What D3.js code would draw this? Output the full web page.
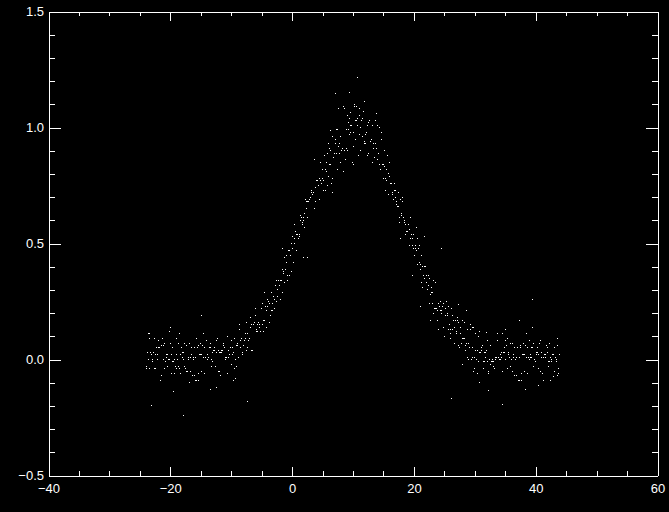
<!DOCTYPE html>
<html>
<head>
<meta charset="utf-8">
<script src="https://cdn.jsdelivr.net/npm/d3@7"></script>
<style>
  html, body { margin: 0; padding: 0; background: #000; }
  #chart svg { display: block; }
  .axis text { fill: #fff; font-family: "Liberation Sans", Arial, sans-serif; font-size: 13px; }
  .axis line, .axis path { stroke: #fff; shape-rendering: crispEdges; }
</style>
</head>
<body>
<div id="chart"></div>
<script>
// tick values
var xMajor = [-40, -20, 0, 20, 40, 60];
var xMinor = [-35, -30, -25, -15, -10, -5, 5, 10, 15, 25, 30, 35, 45, 50, 55];
var yMajor = [-0.5, 0.0, 0.5, 1.0, 1.5];
var yMinor = [-0.4, -0.3, -0.2, -0.1, 0.1, 0.2, 0.3, 0.4, 0.6, 0.7, 0.8, 0.9, 1.1, 1.2, 1.3, 1.4];

// points [x, y]
var tailLeft = [[-23.97,-.04],[-23.89,-.03],[-23.81,.03],[-23.68,.03],[-23.62,.00],[-23.53,.11],[-23.42,.09],[-23.34,-.04],[-23.21,.03],[-23.09,.02],
[-22.94,.00],[-22.86,-.01],[-22.73,.03],[-22.65,-.04],[-22.56,.09],[-22.48,-.04],[-22.37,.02],[-22.26,.05],[-22.18,.02],[-22.05,.00],
[-21.99,.08],[-21.91,.05],[-21.78,.05],[-21.71,.05],[-21.59,-.09],[-21.45,.06],[-21.39,-.07],[-21.30,.09],[-21.14,.06],[-21.07,.00],
[-20.97,.07],[-20.89,-.04],[-20.81,-.01],[-20.68,.01],[-20.62,.02],[-20.53,-.03],[-20.42,.02],[-20.34,.00],[-20.21,.00],[-20.09,.12],
[-19.94,.07],[-19.86,.02],[-19.73,-.06],[-19.65,.05],[-19.56,-.01],[-19.48,-.01],[-19.37,-.06],[-19.26,.00],[-19.18,-.03],[-19.05,.09],
[-18.99,.02],[-18.91,-.04],[-18.78,.00],[-18.71,.07],[-18.59,-.03],[-18.45,-.04],[-18.39,.02],[-18.30,-.06],[-18.14,.05],[-18.07,.03],
[-17.97,.01],[-17.89,.03],[-17.81,.00],[-17.68,-.03],[-17.62,.07],[-17.53,-.04],[-17.42,.06],[-17.34,-.05],[-17.21,-.05],[-17.09,.01],
[-16.94,.00],[-16.86,.07],[-16.73,-.05],[-16.65,.01],[-16.56,.02],[-16.48,.05],[-16.37,-.07],[-16.26,.00],[-16.18,.01],[-16.05,-.07],
[-15.99,.05],[-15.91,-.09],[-15.78,.01],[-15.71,-.09],[-15.59,.05],[-15.45,.06],[-15.39,-.06],[-15.30,-.09],[-15.14,.02],[-15.07,.07],
[-14.97,.02],[-14.89,.02],[-14.81,-.05],[-14.68,.06],[-14.62,.11],[-14.53,.01],[-14.42,.05],[-14.34,-.06],[-14.21,.01],[-14.09,.08],
[-13.94,.00],[-13.86,.02],[-13.73,.01],[-13.65,.01],[-13.56,.05],[-13.48,.05],[-13.37,.07],[-13.26,-.03],[-13.18,.00],[-13.05,-.01],
[-12.99,.03],[-12.91,.04],[-12.78,.04],[-12.71,.05],[-12.59,-.03],[-12.45,.03],[-12.39,.08],[-12.30,.09],[-12.14,-.05],[-12.07,.04],
[-11.97,.03],[-11.89,-.05],[-11.81,-.07],[-11.68,.03],[-11.62,.04],[-11.53,.03],[-11.42,.04],[-11.34,.07],[-11.21,.06],[-11.09,.05],
[-10.94,.01],[-10.86,.00],[-10.73,.01],[-10.65,.10],[-10.56,-.06],[-10.48,.04],[-10.37,.01],[-10.26,.02],[-10.18,.05],[-10.05,.05],
[-9.99,-.02],[-9.91,.08],[-9.78,.05],[-9.71,.02],[-9.59,.03],[-9.45,-.04],[-9.39,.09],[-9.30,.00],[-9.14,-.03],[-9.07,.06]];

var slopeLeft = [[-8.97,.06],[-8.89,.07],[-8.81,.01],[-8.68,.13],[-8.62,.15],[-8.53,.05],[-8.42,.08],[-8.34,.09],[-8.21,.03],[-8.09,.02],
[-7.94,.06],[-7.86,.08],[-7.73,.11],[-7.65,.09],[-7.56,.04],[-7.48,.16],[-7.37,.05],[-7.26,.11],[-7.18,.08],[-7.05,.09],
[-6.99,.09],[-6.91,.14],[-6.78,.18],[-6.71,.04],[-6.59,.15],[-6.45,.04],[-6.39,.15],[-6.30,.15],[-6.14,.16],[-6.07,.19],
[-5.97,.22],[-5.89,.12],[-5.81,.13],[-5.68,.15],[-5.62,.12],[-5.53,.16],[-5.42,.15],[-5.34,.14],[-5.21,.12],[-5.09,.22],
[-4.94,.24],[-4.86,.15],[-4.73,.17],[-4.65,.12],[-4.56,.17],[-4.48,.17],[-4.37,.23],[-4.26,.14],[-4.18,.21],[-4.05,.26],
[-3.99,.23],[-3.91,.25],[-3.78,.16],[-3.71,.24],[-3.59,.19],[-3.45,.21],[-3.39,.29],[-3.30,.24],[-3.14,.21],[-3.07,.27],
[-2.97,.26],[-2.89,.22],[-2.81,.22],[-2.68,.32],[-2.62,.25],[-2.53,.34],[-2.42,.27],[-2.34,.30],[-2.21,.34],[-2.09,.32],
[-1.94,.26],[-1.86,.34],[-1.73,.34],[-1.65,.29],[-1.56,.39],[-1.48,.38],[-1.37,.37],[-1.26,.33],[-1.18,.44],[-1.05,.39],
[-0.99,.45],[-0.91,.42],[-0.78,.34],[-0.71,.36],[-0.59,.47],[-0.45,.47],[-0.39,.36],[-0.30,.45],[-0.14,.38],[-0.07,.50],
[0.03,.53],[0.11,.48],[0.19,.42],[0.32,.52],[0.38,.50],[0.47,.58],[0.58,.55],[0.66,.47],[0.79,.54],[0.91,.54],
[1.06,.52],[1.14,.54],[1.27,.53],[1.35,.62],[1.44,.60],[1.52,.61],[1.63,.58],[1.74,.59],[1.82,.61],[1.95,.60],
[2.01,.63],[2.09,.57],[2.22,.69],[2.29,.68],[2.41,.65],[2.55,.61],[2.61,.68],[2.70,.68],[2.86,.69],[2.93,.69],
[3.03,.70],[3.11,.72],[3.19,.73],[3.32,.71],[3.38,.71],[3.47,.72],[3.58,.72],[3.66,.65],[3.79,.68],[3.91,.74],
[4.06,.77],[4.14,.77],[4.27,.75],[4.35,.75],[4.44,.78],[4.52,.69],[4.63,.85],[4.74,.77],[4.82,.76],[4.95,.78],
[5.01,.82],[5.09,.73],[5.22,.77],[5.29,.88],[5.41,.73],[5.55,.82],[5.61,.81],[5.70,.85],[5.86,.89],[5.93,.79]];

var crest = [[6.03,.93],[6.11,.91],[6.19,.84],[6.32,.84],[6.38,.90],[6.47,.76],[6.58,.78],[6.66,.96],[6.79,.87],[6.91,.89],
[7.06,.93],[7.14,.95],[7.27,.89],[7.35,.99],[7.44,.82],[7.52,.99],[7.63,.92],[7.74,.89],[7.82,.93],[7.95,.96],
[8.01,.85],[8.09,.90],[8.22,.91],[8.29,.91],[8.41,1.09],[8.55,.90],[8.61,1.08],[8.70,.86],[8.86,.91],[8.93,.99],
[9.03,.90],[9.11,1.05],[9.19,1.02],[9.32,.99],[9.38,.97],[9.47,1.04],[9.58,.98],[9.66,1.01],[9.79,1.01],[9.91,.85],
[10.06,.92],[10.14,.98],[10.27,1.09],[10.35,.95],[10.44,1.03],[10.52,1.03],[10.63,1.09],[10.74,1.01],[10.82,1.04],[10.95,.88],
[11.01,.97],[11.09,1.05],[11.22,1.00],[11.29,.90],[11.41,1.03],[11.55,1.04],[11.61,.96],[11.70,1.07],[11.86,.93],[11.93,.94],
[12.03,.97],[12.11,.93],[12.19,.98],[12.32,1.01],[12.38,.88],[12.47,1.02],[12.58,.89],[12.66,1.03],[12.79,1.03],[12.91,.94],
[13.06,.95],[13.14,.85],[13.27,1.01],[13.35,.93],[13.44,.91],[13.52,.87],[13.63,1.03],[13.74,.93],[13.82,.91],[13.95,1.01],
[14.01,.86],[14.09,1.01],[14.22,.89],[14.29,1.00],[14.41,.84],[14.55,.82],[14.61,.95],[14.70,.98],[14.86,.84],[14.93,.78],
[15.03,.84],[15.11,.83],[15.19,.90],[15.32,.78],[15.38,.73],[15.47,.82],[15.58,.77],[15.66,.88],[15.79,.80],[15.91,.71],
[16.06,.79],[16.14,.76],[16.27,.76],[16.35,.76],[16.44,.72],[16.52,.71],[16.63,.69],[16.74,.76],[16.82,.73],[16.95,.73],
[17.01,.70],[17.09,.68],[17.22,.67],[17.29,.66],[17.41,.72],[17.55,.66],[17.61,.61],[17.70,.59],[17.86,.69],[17.93,.62]];

var slopeRight = [[18.03,.63],[18.11,.68],[18.19,.70],[18.32,.61],[18.38,.59],[18.47,.60],[18.58,.58],[18.66,.54],[18.79,.55],[18.91,.55],
[19.06,.58],[19.14,.58],[19.27,.56],[19.35,.49],[19.44,.61],[19.52,.52],[19.63,.54],[19.74,.52],[19.82,.49],[19.95,.48],
[20.01,.54],[20.09,.45],[20.22,.48],[20.29,.49],[20.41,.47],[20.55,.52],[20.61,.41],[20.70,.48],[20.86,.49],[20.93,.42],
[21.03,.41],[21.11,.39],[21.19,.45],[21.32,.33],[21.38,.31],[21.47,.40],[21.58,.36],[21.66,.35],[21.79,.40],[21.91,.40],
[22.06,.36],[22.14,.33],[22.27,.30],[22.35,.32],[22.44,.36],[22.52,.24],[22.63,.35],[22.74,.28],[22.82,.31],[22.95,.29],
[23.01,.29],[23.09,.24],[23.22,.20],[23.29,.34],[23.41,.22],[23.55,.33],[23.61,.22],[23.70,.22],[23.86,.21],[23.93,.17],
[24.03,.13],[24.11,.24],[24.19,.23],[24.32,.21],[24.38,.25],[24.47,.20],[24.58,.21],[24.66,.23],[24.79,.24],[24.91,.14],
[25.06,.10],[25.14,.22],[25.27,.19],[25.35,.25],[25.44,.20],[25.52,.19],[25.63,.13],[25.74,.23],[25.82,.15],[25.95,.09],
[26.01,.13],[26.09,.11],[26.22,.22],[26.29,.13],[26.41,.19],[26.55,.17],[26.61,.07],[26.70,.14],[26.86,.17],[26.93,.11],
[27.03,.12],[27.11,.18],[27.19,.17],[27.32,.06],[27.38,.16],[27.47,.05],[27.58,.14],[27.66,.11],[27.79,.07],[27.91,.09],
[28.06,.17],[28.14,.09],[28.27,.09],[28.35,.16],[28.44,.04],[28.52,.06],[28.63,.07],[28.74,.13],[28.82,.01],[28.95,.07],
[29.01,.00],[29.09,.05],[29.22,.15],[29.29,.13],[29.41,.00],[29.55,.01],[29.61,.14],[29.70,.05],[29.86,.14],[29.93,.01]];

var tailRight = [[30.03,-.04],[30.11,.04],[30.19,.11],[30.32,.00],[30.38,.04],[30.47,-.06],[30.58,-.01],[30.66,.10],[30.79,.03],[30.91,.03],
[31.06,.05],[31.14,.04],[31.27,.06],[31.35,-.04],[31.44,-.01],[31.52,-.01],[31.63,.03],[31.74,.03],[31.82,.01],[31.95,.04],
[32.01,-.01],[32.09,.08],[32.22,-.06],[32.29,-.05],[32.41,.00],[32.55,.06],[32.61,-.02],[32.70,-.01],[32.86,-.01],[32.93,.00],
[33.03,-.01],[33.11,-.03],[33.19,-.04],[33.32,.00],[33.38,.01],[33.47,.00],[33.58,.01],[33.66,.11],[33.79,.08],[33.91,.01],
[34.06,.00],[34.14,.00],[34.27,.02],[34.35,.03],[34.44,.01],[34.52,.11],[34.63,-.05],[34.74,.03],[34.82,.05],[34.95,.03],
[35.01,.00],[35.09,.08],[35.22,.06],[35.29,-.04],[35.41,.09],[35.55,.02],[35.61,.03],[35.70,.01],[35.86,-.03],[35.93,.07],
[36.03,.00],[36.11,.07],[36.19,-.05],[36.32,.01],[36.38,.02],[36.47,.05],[36.58,-.07],[36.66,.00],[36.79,.01],[36.91,-.07],
[37.06,.05],[37.14,-.09],[37.27,.01],[37.35,-.09],[37.44,.05],[37.52,.06],[37.63,-.06],[37.74,-.09],[37.82,.02],[37.95,.07],
[38.01,.02],[38.09,.02],[38.22,-.05],[38.29,.06],[38.41,.11],[38.55,.01],[38.61,.05],[38.70,-.06],[38.86,.01],[38.93,.08],
[39.03,.00],[39.11,.02],[39.19,.01],[39.32,.01],[39.38,.05],[39.47,.05],[39.58,.07],[39.66,-.03],[39.79,.00],[39.91,-.01],
[40.06,.02],[40.14,.03],[40.27,.03],[40.35,.05],[40.44,-.04],[40.52,.02],[40.63,.07],[40.74,.08],[40.82,-.05],[40.95,.03],
[41.01,.01],[41.09,-.06],[41.22,-.09],[41.29,.01],[41.41,.02],[41.55,.01],[41.61,.02],[41.70,.06],[41.86,.05],[41.93,.03],
[42.03,-.01],[42.11,-.03],[42.19,-.01],[42.32,.07],[42.38,-.09],[42.47,.01],[42.58,-.01],[42.66,.00],[42.79,.02],[42.91,.02],
[43.06,-.05],[43.14,.05],[43.27,.01],[43.35,-.01],[43.44,.00],[43.52,-.07],[43.63,.06],[43.74,-.04],[43.82,-.06],[43.95,.02]];

var outliers = [[-23.4,.11],[-23.1,-.20],[-20.0,.14],[-19.4,-.14],[-18.5,.11],[-17.9,-.24],[-16.8,-.10],[-15.7,.09],[-14.8,.19],
[-13.4,-.13],[-12.4,-.12],[-9.6,-.09],[-9.3,-.08],[-7.4,-.18],[-4.5,.29],[-1.5,.48],[1.9,.44],[2.5,.44],[3.6,.86],[5.8,.75],
[6.6,.72],[6.3,.985],[7.2,1.146],[7.7,1.08],[8.4,.81],[9.5,1.15],[9.6,1.065],[10.1,.84],[10.3,1.10],[10.7,1.215],[11.1,1.08],
[11.9,1.11],[13.8,1.06],[16.0,.85],[17.8,.52],[19.7,.36],[20.5,.57],[21.1,.23],[21.8,.53],[22.8,.17],[24.5,.48],[26.2,-.17],
[27.4,.235],[28.6,.21],[27.9,-.02],[29.8,-.05],[30.8,.12],[30.8,-.10],[32.0,.115],[32.3,-.135],[34.5,-.195],[35.0,.13],
[37.4,.17],[38.3,-.13],[39.4,.14],[39.5,.257],[40.5,-.11],[42.9,-.075],[43.5,.09]];

var points = tailLeft.concat(slopeLeft, crest, slopeRight, tailRight, outliers);

var width = 669, height = 512;

var svg = d3.select("#chart")
  .append("svg")
  .attr("width", width)
  .attr("height", height)
  .style("background", "#000");

// scales (plot box 48..657 x 11..475)
var xScale = d3.scaleLinear().domain([-40, 60]).range([48.5, 657.5]);
var yScale = d3.scaleLinear().domain([-0.5, 1.5]).range([475.5, 11.5]);

var xLen = 9, yLen = 12;

// bottom axis, ticks point inward
svg.append("g")
  .attr("class", "axis")
  .attr("transform", "translate(0," + 475.5 + ")")
  .call(d3.axisBottom(xScale).tickValues(xMajor).tickSizeInner(-xLen).tickSizeOuter(0)
    .tickPadding(8).tickFormat(d3.format("d")));
svg.append("g")
  .attr("class", "axis")
  .attr("transform", "translate(0," + 475.5 + ")")
  .call(d3.axisBottom(xScale).tickValues(xMinor).tickSizeInner(-xLen / 2).tickSizeOuter(0).tickFormat(""));

// top axis
svg.append("g")
  .attr("class", "axis")
  .attr("transform", "translate(0," + 11.5 + ")")
  .call(d3.axisTop(xScale).tickValues(xMajor).tickSizeInner(-xLen).tickSizeOuter(0).tickFormat(""));
svg.append("g")
  .attr("class", "axis")
  .attr("transform", "translate(0," + 11.5 + ")")
  .call(d3.axisTop(xScale).tickValues(xMinor).tickSizeInner(-xLen / 2).tickSizeOuter(0).tickFormat(""));

// left axis
svg.append("g")
  .attr("class", "axis")
  .attr("transform", "translate(" + 48.5 + ",0)")
  .call(d3.axisLeft(yScale).tickValues(yMajor).tickSizeInner(-yLen).tickSizeOuter(0)
    .tickPadding(4.5).tickFormat(d3.format(".1f")));
svg.append("g")
  .attr("class", "axis")
  .attr("transform", "translate(" + 48.5 + ",0)")
  .call(d3.axisLeft(yScale).tickValues(yMinor).tickSizeInner(-yLen / 2).tickSizeOuter(0).tickFormat(""));

// right axis
svg.append("g")
  .attr("class", "axis")
  .attr("transform", "translate(" + 657.5 + ",0)")
  .call(d3.axisRight(yScale).tickValues(yMajor).tickSizeInner(-yLen).tickSizeOuter(0).tickFormat(""));
svg.append("g")
  .attr("class", "axis")
  .attr("transform", "translate(" + 657.5 + ",0)")
  .call(d3.axisRight(yScale).tickValues(yMinor).tickSizeInner(-yLen / 2).tickSizeOuter(0).tickFormat(""));

// dots
svg.append("g")
  .selectAll(".dot")
  .data(points)
  .enter().append("rect")
  .attr("class", "dot")
  .attr("x", function (d) { return Math.floor(xScale(d[0])); })
  .attr("y", function (d) { return Math.floor(yScale(d[1])); })
  .attr("width", 1)
  .attr("height", 1)
  .attr("fill", "#fff")
  .attr("shape-rendering", "crispEdges");
</script>
</body>
</html>
